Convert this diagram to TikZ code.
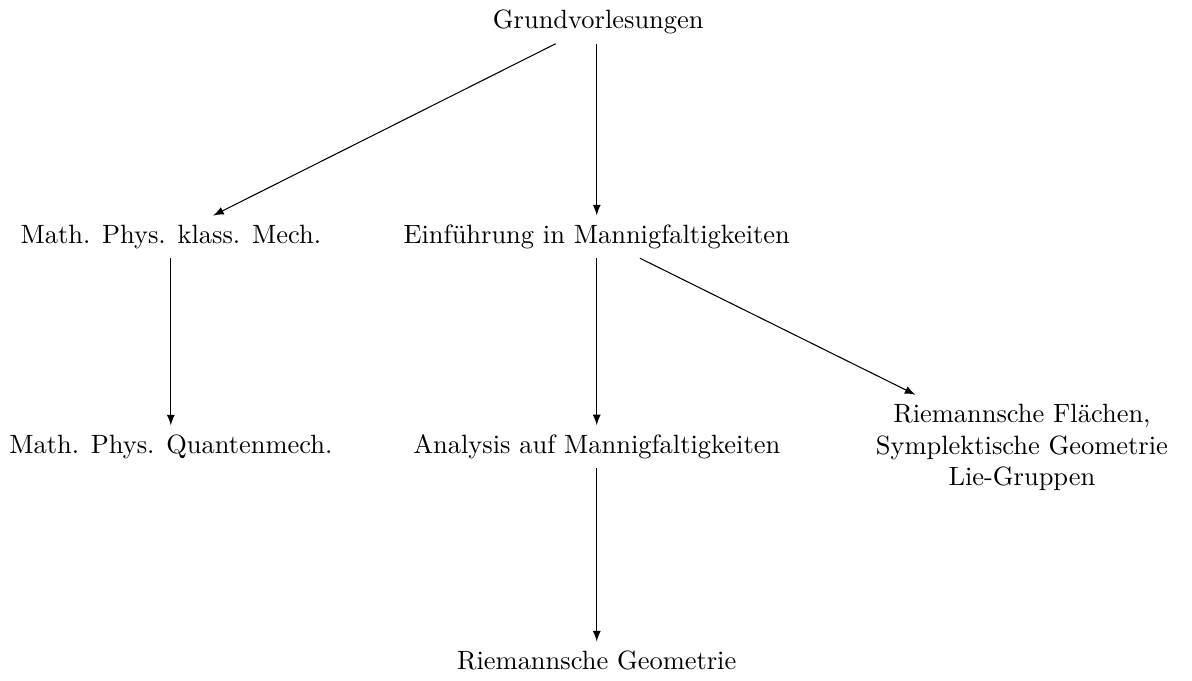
\documentclass[tikz,border=0pt]{standalone}
\usepackage{fontspec}
\begin{document}
\begin{tikzpicture}[x=1cm,y=1cm,>=latex]

\useasboundingbox (0,0) rectangle (15.84,9.047);

% The lectures
\node (grund) at (7.95,8.75) {Grundvorlesungen};
\node (klass) at (2.27,5.90) {Math. Phys. klass. Mech.};
\node (einf) at (7.93,5.90) {Einführung in Mannigfaltigkeiten};
\node (quant) at (2.27,3.11) {Math. Phys. Quantenmech.};
\node (analysis) at (7.93,3.11) {Analysis auf Mannigfaltigkeiten};
\node[align=center] (flaechen) at (13.58,3.10) {Riemannsche Flächen,\\Symplektische Geometrie\\Lie-Gruppen};
\node (riemgeo) at (7.93,0.27) {Riemannsche Geometrie};

% The arrows
\draw[->] (grund) -- (klass);
\draw[->] (grund.south -| einf) -- (einf);
\draw[->] (klass) -- (quant);
\draw[->] (einf) -- (analysis);
\draw[->] (einf) -- (flaechen);
\draw[->] (analysis) -- (riemgeo);

\end{tikzpicture}
\end{document}
